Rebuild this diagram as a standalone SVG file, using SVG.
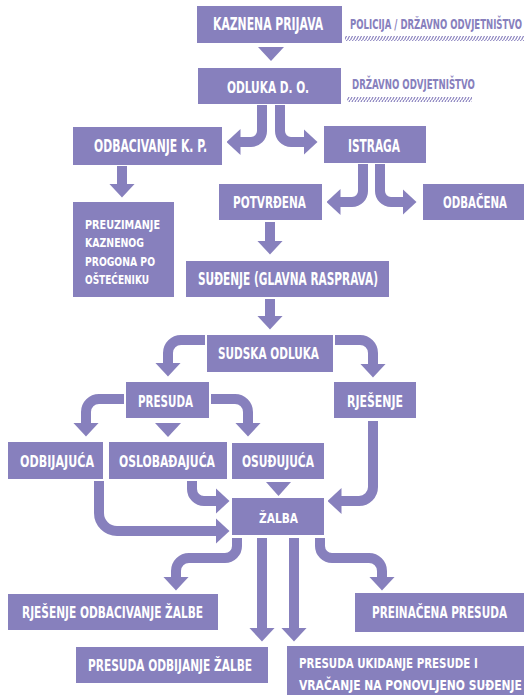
<svg xmlns="http://www.w3.org/2000/svg" width="524" height="695" viewBox="0 0 524 695">
<style>
.box{fill:#8780bd}
.t{font-family:"DejaVu Sans Condensed","DejaVu Sans",sans-serif;font-weight:bold;font-stretch:condensed;fill:#ffffff}
.lbl{font-family:"DejaVu Sans Condensed","DejaVu Sans",sans-serif;font-weight:bold;font-stretch:condensed;fill:#8780bd}
.ca{fill:none;stroke:#8780bd;stroke-width:10;stroke-linecap:butt;marker-end:url(#ah)}
.tri{fill:#8780bd}
</style>
<defs>
<marker id="ah" markerUnits="userSpaceOnUse" markerWidth="14" markerHeight="26" viewBox="0 0 14 26" refX="0.5" refY="13" orient="auto">
<path d="M0,0 L14,13 L0,26Z" fill="#8780bd"/>
</marker>
<pattern id="hatch" patternUnits="userSpaceOnUse" width="3" height="5">
<path d="M-0.5,5 L2,0 M2.5,5 L5,0" stroke="#8780bd" stroke-width="1.1"/>
</pattern>
</defs>

<g id="connectors">
<polygon class="tri" points="258,47 284,47 271,61"/>
<path class="ca" d="M262,105 V131 A11,11 0 0 1 251,142 H240"/>
<path class="ca" d="M280,105 V131 A11,11 0 0 0 291,142 H304"/>
<path class="ca" d="M122,166 V184"/>
<path class="ca" d="M363,164 V191 A11,11 0 0 1 352,202 H340"/>
<path class="ca" d="M380,164 V191 A11,11 0 0 0 391,202 H403"/>
<path class="ca" d="M270,222 V241"/>
<path class="ca" d="M270,299 V316"/>
<path class="ca" d="M205,340 H181 A13,13 0 0 0 168,353 V363"/>
<path class="ca" d="M335,340 H360 A13,13 0 0 1 373,353 V364"/>
<path class="ca" d="M124,399 H99 A13,13 0 0 0 86,412 V423"/>
<polygon class="tri" points="155,423 181,423 168,437"/>
<path class="ca" d="M211,399 H235 A13,13 0 0 1 248,412 V423"/>
<path class="ca" d="M373,421 V487 A14,14 0 0 1 359,501 H341"/>
<path class="ca" d="M192,481 V489 A12,12 0 0 0 204,501 H216"/>
<polygon class="tri" points="266,482 291,482 278.5,496"/>
<path class="ca" d="M99,481 V513 A18,18 0 0 0 117,531 H216"/>
<path class="ca" d="M237,538 V546 A12,12 0 0 1 225,558 H189 A13,13 0 0 0 176,571 V577"/>
<path class="ca" d="M262,538 V628"/>
<path class="ca" d="M294,538 V628"/>
<path class="ca" d="M320,538 V546 A12,12 0 0 0 332,558 H369 A13,13 0 0 1 382,571 V577"/>
</g>

<g id="label-policija">
<text class="lbl" transform="translate(350,29) scale(0.68,1)" x="0" y="0" font-size="14" textLength="253" lengthAdjust="spacingAndGlyphs">POLICIJA / DRŽAVNO ODVJETNIŠTVO</text>
<rect x="345" y="36" width="179" height="5" fill="url(#hatch)"/>
</g>
<g id="label-drzavno">
<text class="lbl" transform="translate(352,89) scale(0.69,1)" x="0" y="0" font-size="14" textLength="178" lengthAdjust="spacingAndGlyphs">DRŽAVNO ODVJETNIŠTVO</text>
<rect x="347" y="97" width="125" height="5" fill="url(#hatch)"/>
</g>

<g id="kaznena-prijava">
<rect class="box" x="197" y="6" width="145" height="37"/>
<text class="t" transform="translate(213,29.5) scale(0.697,1)" x="0" y="0" font-size="17" textLength="158" lengthAdjust="spacingAndGlyphs">KAZNENA PRIJAVA</text>
</g>
<g id="odluka-do">
<rect class="box" x="198" y="68" width="143" height="36"/>
<text class="t" x="227" y="93" font-size="16" textLength="82" lengthAdjust="spacingAndGlyphs">ODLUKA  D. O.</text>
</g>
<g id="odbacivanje-kp">
<rect class="box" x="73" y="127" width="149" height="38"/>
<text class="t" x="94" y="152" font-size="17" textLength="113" lengthAdjust="spacingAndGlyphs">ODBACIVANJE K. P.</text>
</g>
<g id="istraga">
<rect class="box" x="324" y="126" width="102" height="37"/>
<text class="t" x="348" y="152" font-size="17" textLength="52" lengthAdjust="spacingAndGlyphs">ISTRAGA</text>
</g>
<g id="preuzimanje">
<rect class="box" x="73" y="202" width="101" height="95"/>
<text class="t" x="85" y="229" font-size="13" textLength="75" lengthAdjust="spacingAndGlyphs">PREUZIMANJE</text>
<text class="t" x="85" y="247" font-size="13" textLength="59" lengthAdjust="spacingAndGlyphs">KAZNENOG</text>
<text class="t" x="85" y="266" font-size="13" textLength="70" lengthAdjust="spacingAndGlyphs">PROGONA PO</text>
<text class="t" x="85" y="284" font-size="13" textLength="64" lengthAdjust="spacingAndGlyphs">OŠTEĆENIKU</text>
</g>
<g id="potvrdena">
<rect class="box" x="219" y="184" width="103" height="36"/>
<text class="t" x="233" y="208" font-size="16" textLength="73" lengthAdjust="spacingAndGlyphs">POTVRĐENA</text>
</g>
<g id="odbacena">
<rect class="box" x="423" y="184" width="101" height="36"/>
<text class="t" transform="translate(443,208) scale(0.727,1)" x="0" y="0" font-size="16" textLength="88" lengthAdjust="spacingAndGlyphs">ODBAČENA</text>
</g>
<g id="sudenje">
<rect class="box" x="186" y="261" width="203" height="36"/>
<text class="t" x="198" y="285" font-size="17" textLength="180" lengthAdjust="spacingAndGlyphs">SUĐENJE (GLAVNA RASPRAVA)</text>
</g>
<g id="sudska-odluka">
<rect class="box" x="207" y="335" width="126" height="37"/>
<text class="t" x="218" y="359" font-size="16" textLength="101" lengthAdjust="spacingAndGlyphs">SUDSKA ODLUKA</text>
</g>
<g id="presuda">
<rect class="box" x="126" y="382" width="83" height="36"/>
<text class="t" x="138" y="407" font-size="16" textLength="55" lengthAdjust="spacingAndGlyphs">PRESUDA</text>
</g>
<g id="rjesenje">
<rect class="box" x="334" y="382" width="82" height="36"/>
<text class="t" x="347" y="407" font-size="16" textLength="56" lengthAdjust="spacingAndGlyphs">RJEŠENJE</text>
</g>
<g id="odbijajuca">
<rect class="box" x="8" y="442" width="95" height="37"/>
<text class="t" x="20" y="467" font-size="16" textLength="74" lengthAdjust="spacingAndGlyphs">ODBIJAJUĆA</text>
</g>
<g id="oslobadajuca">
<rect class="box" x="109" y="442" width="118" height="37"/>
<text class="t" x="119" y="467" font-size="16" textLength="96" lengthAdjust="spacingAndGlyphs">OSLOBAĐAJUĆA</text>
</g>
<g id="osudujuca">
<rect class="box" x="232" y="443" width="92" height="36"/>
<text class="t" x="242" y="467" font-size="16" textLength="72" lengthAdjust="spacingAndGlyphs">OSUĐUJUĆA</text>
</g>
<g id="zalba">
<rect class="box" x="232" y="498" width="92" height="37"/>
<text class="t" x="259" y="523" font-size="14" textLength="39" lengthAdjust="spacingAndGlyphs">ŽALBA</text>
</g>
<g id="rjesenje-odbacivanje-zalbe">
<rect class="box" x="8" y="594" width="210" height="36"/>
<text class="t" x="22" y="618" font-size="16" textLength="181" lengthAdjust="spacingAndGlyphs">RJEŠENJE ODBACIVANJE ŽALBE</text>
</g>
<g id="preinacena-presuda">
<rect class="box" x="355" y="593" width="169" height="39"/>
<text class="t" transform="translate(372,618) scale(0.73,1)" x="0" y="0" font-size="16" textLength="185" lengthAdjust="spacingAndGlyphs">PREINAČENA PRESUDA</text>
</g>
<g id="presuda-odbijanje-zalbe">
<rect class="box" x="76" y="647" width="192" height="36"/>
<text class="t" x="88" y="671" font-size="16" textLength="164" lengthAdjust="spacingAndGlyphs">PRESUDA ODBIJANJE ŽALBE</text>
</g>
<g id="presuda-ukidanje">
<rect class="box" x="287" y="646" width="237" height="49"/>
<text class="t" transform="translate(299,668) scale(0.82,1)" x="0" y="0" font-size="14" textLength="218" lengthAdjust="spacingAndGlyphs">PRESUDA UKIDANJE PRESUDE I</text>
<text class="t" transform="translate(299,690) scale(0.854,1)" x="0" y="0" font-size="14" textLength="261" lengthAdjust="spacingAndGlyphs">VRAČANJE NA PONOVLJENO SUĐENJE</text>
</g>
</svg>
